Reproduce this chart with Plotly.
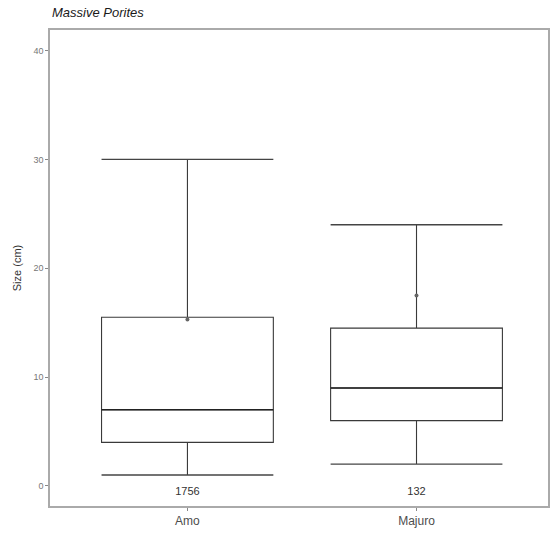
import plotly.graph_objects as go

sites = ["Amo", "Majuro"]
counts = ["1756", "132"]
lower = [1, 2]
q1 = [4, 6]
median = [7, 9]
q3 = [15.5, 14.5]
upper = [30, 24]
means = [15.3, 17.5]
yticks = [0, 10, 20, 30, 40]

xpos = [1, 2]
half = 0.375
fig = go.Figure()

for i, s in enumerate(sites):
    x = xpos[i]
    fig.add_trace(go.Box(
        x=[x], q1=[q1[i]], median=[median[i]], q3=[q3[i]],
        lowerfence=[lower[i]], upperfence=[upper[i]],
        width=0.75, fillcolor="rgba(255,255,255,0)",
        line=dict(color="#3a3a3a", width=1.1), whiskerwidth=0,
        boxpoints=False, showlegend=False, hoverinfo="skip"))
    for v in (lower[i], upper[i]):
        fig.add_trace(go.Scatter(x=[x - half, x + half], y=[v, v], mode="lines",
                                 line=dict(color="#444", width=1.3),
                                 showlegend=False, hoverinfo="skip"))
    fig.add_trace(go.Scatter(x=[x - half, x + half], y=[median[i], median[i]], mode="lines",
                             line=dict(color="#222", width=1.6),
                             showlegend=False, hoverinfo="skip"))
    fig.add_trace(go.Scatter(x=[x], y=[means[i]], mode="markers",
                             marker=dict(color="#666", size=4),
                             showlegend=False, hoverinfo="skip"))
    fig.add_trace(go.Scatter(x=[x], y=[-0.6], mode="text", text=[counts[i]],
                             textfont=dict(family="Liberation Sans, Arial", size=11, color="#333"),
                             showlegend=False, hoverinfo="skip"))

fig.update_layout(
    width=551, height=537,
    margin=dict(l=50, r=1, t=30, b=31),
    paper_bgcolor="white", plot_bgcolor="white",
    font=dict(family="Liberation Sans, Arial", color="#4d4d4d"),
    annotations=[dict(text="<i>Massive Porites</i>", xref="paper", yref="paper",
                      x=0, y=1.0, xanchor="left", yanchor="bottom", yshift=8,
                      showarrow=False,
                      font=dict(size=13, color="#1a1a1a", family="Liberation Sans, Arial"))],
)
fig.update_xaxes(
    range=[0.4, 2.574], tickvals=xpos, ticktext=sites,
    showgrid=False, zeroline=False,
    showline=True, linecolor="#aaaaaa", linewidth=1.5, mirror=True,
    ticks="outside", ticklen=3, tickcolor="#888",
    tickfont=dict(size=12, color="#4d4d4d"),
)
fig.update_yaxes(
    range=[-1.85, 41.9], tickvals=yticks,
    showgrid=False, zeroline=False,
    showline=True, linecolor="#aaaaaa", linewidth=1.5, mirror=True,
    ticks="outside", ticklen=3, tickcolor="#888",
    tickfont=dict(size=9, color="#777"),
    title=dict(text="Size (cm)", font=dict(size=11, color="#333"), standoff=10),
)

fig.write_html("out.html", config={"displayModeBar": False},
               post_script="document.body.style.margin='0';document.body.style.overflow='hidden';")
